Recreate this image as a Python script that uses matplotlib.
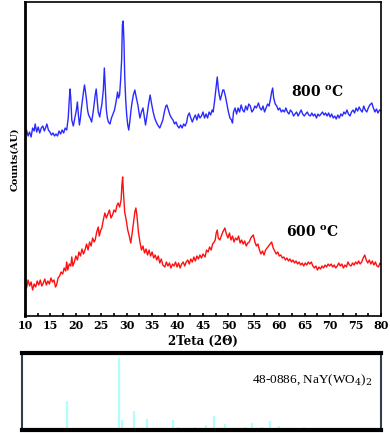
import matplotlib
matplotlib.use("Agg")
import matplotlib.pyplot as plt
from matplotlib.ticker import MultipleLocator

# ---- data (2theta in degrees, intensity in arbitrary units) ----
xrd_800 = [
    (10.0,185),(10.3,190),(10.6,184),(10.9,188),(11.2,183),(11.5,192),(11.8,189),(12.0,196),(12.3,188),(12.6,193),
    (12.9,187),(13.2,192),(13.5,194),(13.8,189),(14.1,193),(14.3,196),(14.6,190),(14.9,188),(15.2,185),(15.5,187),
    (15.8,184),(16.1,186),(16.4,184),(16.7,189),(17.0,186),(17.3,190),(17.6,187),(17.9,192),(18.2,190),(18.5,202),
    (18.7,220),(18.85,231),(19.0,222),(19.2,200),(19.5,194),(19.8,202),(20.1,210),(20.3,218),(20.5,205),(20.7,195),
    (20.9,202),(21.1,212),(21.3,220),(21.5,228),(21.7,235),(21.9,228),(22.1,220),(22.3,210),(22.5,205),(22.8,202),
    (23.1,198),(23.4,208),(23.6,216),(23.8,225),(24.0,231),(24.2,220),(24.4,208),(24.7,203),(24.9,210),(25.1,215),
    (25.4,230),(25.6,252),(25.8,230),(26.0,210),(26.2,202),(26.4,198),(26.7,196),(27.0,202),(27.3,206),(27.6,210),
    (27.9,218),(28.2,228),(28.4,222),(28.6,225),(28.8,240),(29.0,260),(29.15,295),(29.3,299),(29.45,280),(29.6,245),
    (29.8,220),(30.0,205),(30.2,195),(30.4,190),(30.6,198),(30.8,208),(31.0,216),(31.3,225),(31.6,230),(31.9,222),
    (32.2,215),(32.4,208),(32.6,202),(32.9,208),(33.2,212),(33.4,205),(33.7,195),(34.0,205),(34.3,216),(34.6,225),
    (34.9,216),(35.2,208),(35.5,202),(35.8,198),(36.1,195),(36.5,192),(36.8,196),(37.1,200),(37.4,208),(37.7,214),
    (37.9,215),(38.2,210),(38.5,205),(38.8,202),(39.1,200),(39.4,196),(39.7,198),(40.0,194),(40.3,192),(40.6,195),
    (40.9,192),(41.2,196),(41.5,194),(41.8,198),(42.0,204),(42.3,207),(42.6,202),(42.9,198),(43.2,202),(43.5,205),
    (43.8,200),(44.1,206),(44.4,202),(44.7,204),(45.0,208),(45.3,202),(45.6,206),(45.9,202),(46.2,208),(46.5,205),
    (46.8,210),(47.0,208),(47.3,220),(47.6,234),(47.8,243),(48.0,232),(48.2,225),(48.4,220),(48.6,224),(48.9,230),
    (49.1,230),(49.4,224),(49.7,216),(50.0,208),(50.3,202),(50.6,200),(50.8,197),(51.0,208),(51.3,212),(51.6,206),
    (51.9,212),(52.2,208),(52.5,215),(52.8,210),(53.1,208),(53.4,214),(53.7,210),(54.0,216),(54.3,214),(54.6,208),
    (54.9,210),(55.2,214),(55.5,212),(55.9,217),(56.2,212),(56.5,210),(56.8,214),(57.1,208),(57.4,212),(57.7,216),
    (58.0,214),(58.3,222),(58.5,228),(58.7,232),(58.9,222),(59.2,216),(59.5,214),(59.8,210),(60.1,212),(60.4,208),
    (60.7,210),(61.0,208),(61.3,212),(61.6,208),(61.9,206),(62.2,210),(62.5,208),(62.8,204),(63.1,206),(63.4,208),
    (63.7,204),(64.0,207),(64.3,210),(64.6,206),(64.9,204),(65.2,206),(65.5,208),(65.8,205),(66.1,204),(66.4,207),
    (66.7,204),(67.0,206),(67.3,202),(67.6,206),(67.9,204),(68.2,206),(68.5,208),(68.8,205),(69.1,207),(69.4,204),
    (69.7,207),(70.0,203),(70.3,206),(70.6,202),(70.9,204),(71.2,201),(71.5,205),(71.8,202),(72.1,206),(72.4,204),
    (72.7,208),(73.0,206),(73.3,210),(73.6,206),(73.9,204),(74.2,208),(74.5,210),(74.8,207),(75.1,212),(75.4,209),
    (75.7,213),(76.0,210),(76.3,208),(76.6,214),(76.9,210),(77.2,208),(77.5,212),(77.8,215),(78.2,217),(78.5,212),
    (78.8,208),(79.1,211),(79.4,207),(79.7,210),(80.0,209),
]

xrd_600 = [
    (10.0,37),(10.3,32),(10.6,40),(10.9,34),(11.2,38),(11.5,30),(11.8,36),(12.1,33),(12.4,39),(12.7,35),
    (13.0,40),(13.3,34),(13.6,37),(13.9,41),(14.2,35),(14.5,39),(14.8,36),(15.1,42),(15.4,38),(15.7,40),
    (16.0,33),(16.2,35),(16.5,42),(16.8,44),(17.1,48),(17.4,46),(17.7,52),(18.0,49),(18.2,58),(18.4,50),
    (18.7,56),(19.0,54),(19.2,63),(19.4,54),(19.7,58),(20.0,64),(20.3,60),(20.6,68),(20.9,64),(21.2,71),
    (21.5,66),(21.8,70),(22.1,76),(22.4,70),(22.7,78),(23.0,74),(23.3,82),(23.6,78),(23.8,80),(24.1,88),
    (24.4,93),(24.6,84),(24.9,90),(25.1,92),(25.4,100),(25.7,107),(26.0,102),(26.3,106),(26.6,110),(26.9,102),
    (27.2,105),(27.5,110),(27.8,108),(28.1,115),(28.3,117),(28.6,113),(28.9,120),(29.05,135),(29.2,143),(29.35,128),
    (29.6,108),(29.9,100),(30.2,90),(30.5,84),(30.8,77),(31.1,88),(31.4,100),(31.6,108),(31.8,112),(32.0,105),
    (32.3,88),(32.6,78),(32.9,70),(33.2,74),(33.5,67),(33.8,71),(34.1,65),(34.4,70),(34.7,64),(35.0,68),
    (35.3,62),(35.6,65),(35.9,60),(36.2,64),(36.5,57),(36.8,61),(37.1,55),(37.5,53),(37.8,58),(38.1,54),
    (38.4,57),(38.7,52),(39.0,56),(39.3,54),(39.6,58),(39.9,53),(40.2,57),(40.5,52),(40.8,56),(41.1,58),
    (41.4,54),(41.7,58),(42.0,60),(42.3,56),(42.6,61),(42.9,58),(43.2,63),(43.5,59),(43.8,64),(44.1,61),
    (44.4,65),(44.7,62),(45.0,66),(45.4,63),(45.7,70),(46.0,68),(46.3,73),(46.6,70),(46.9,76),(47.2,78),
    (47.4,80),(47.6,87),(47.8,90),(48.0,82),(48.3,80),(48.6,84),(48.9,88),(49.1,90),(49.3,92),(49.6,86),
    (49.9,82),(50.2,87),(50.5,80),(50.8,84),(51.1,78),(51.4,82),(51.7,80),(52.0,84),(52.3,77),(52.6,80),
    (52.9,76),(53.2,79),(53.5,74),(53.8,77),(54.1,78),(54.4,82),(54.7,84),(54.9,85),(55.2,78),(55.5,74),
    (55.8,76),(56.1,70),(56.4,66),(56.7,69),(57.0,65),(57.3,70),(57.6,72),(57.9,74),(58.2,76),(58.5,78),
    (58.8,72),(59.1,69),(59.4,66),(59.7,68),(60.0,64),(60.3,65),(60.6,62),(60.9,63),(61.2,60),(61.5,62),
    (61.8,59),(62.1,61),(62.4,58),(62.7,60),(63.0,57),(63.3,59),(63.6,56),(63.9,58),(64.2,55),(64.5,57),
    (64.8,54),(65.1,57),(65.4,55),(65.7,58),(66.0,56),(66.3,58),(66.6,54),(66.9,52),(67.2,54),(67.5,50),
    (67.8,53),(68.1,51),(68.4,54),(68.7,52),(69.0,55),(69.3,53),(69.6,56),(69.9,54),(70.2,56),(70.5,53),
    (70.8,55),(71.1,52),(71.4,54),(71.7,57),(72.0,54),(72.3,56),(72.6,52),(72.9,55),(73.2,53),(73.5,58),
    (73.8,55),(74.1,54),(74.4,57),(74.7,55),(75.0,58),(75.3,56),(75.6,59),(75.9,56),(76.2,58),(76.5,62),
    (76.8,65),(77.1,60),(77.4,57),(77.7,60),(78.0,56),(78.3,59),(78.6,55),(78.9,58),(79.2,54),(79.5,53),
    (79.8,57),(80.0,55),
]

# reference pattern 48-0886 NaY(WO4)2 : position, relative intensity (%)
ref_pos = [18.7, 29.0, 29.5, 31.8, 34.4, 39.5, 40.5, 43.9, 46.0, 47.6, 49.6, 53.6, 54.9, 57.0, 58.5, 60.2, 65.2]
ref_int = [38, 100, 12, 24, 13, 11, 2, 2, 4, 17, 5, 2, 7, 2, 10, 3, 2]

label_800 = "800 $^{\\mathbf{o}}$C"
label_600 = "600 $^{\\mathbf{o}}$C"
ref_label = "48-0886, NaY(WO$_4$)$_2$"
xticks = [10, 15, 20, 25, 30, 35, 40, 45, 50, 55, 60, 65, 70, 75, 80]

plt.rcParams['font.family'] = ['DejaVu Serif']
plt.rcParams['mathtext.fontset'] = 'dejavuserif'

W, H = 390, 433
fig = plt.figure(figsize=(W / 100, H / 100), dpi=100)

# ---- main axes ----
ax = fig.add_axes([25 / W, 1 - 316 / H, 356 / W, 314 / H])
x8, y8 = zip(*xrd_800)
x6, y6 = zip(*xrd_600)
ax.plot(x8, y8, color='#2a2aff', lw=1.0)
ax.plot(x6, y6, color='#ff1010', lw=1.0)
ax.set_xlim(10, 80)
ax.set_ylim(4, 318)
ax.set_yticks([])
ax.set_xticks(xticks)
ax.set_xticklabels([str(t) for t in xticks], fontsize=8, fontweight='bold')
ax.xaxis.set_minor_locator(MultipleLocator(2.5))
ax.tick_params(axis='x', which='both', direction='in', length=2, width=1.2, pad=3)
for s in ax.spines.values():
    s.set_linewidth(1.2)
ax.spines['left'].set_linewidth(2.0)
ax.set_xlabel("2Teta (2\u0398)", fontsize=8.5, fontweight='bold', labelpad=3)
ax.set_ylabel("Counts(AU)", fontsize=7, fontweight='bold', labelpad=4)
ax.text(62.3, 228, label_800, fontsize=10, fontweight='bold', ha='left', va='center')
ax.text(61.3, 88, label_600, fontsize=10, fontweight='bold', ha='left', va='center')

# ---- reference pattern axes ----
ax2 = fig.add_axes([22 / W, 1 - 430 / H, 359 / W, 77 / H])
ax2.vlines(ref_pos, 0, ref_int, color='#b0ffff', lw=1.6)
ax2.set_xlim(9.95, 80.2)
ax2.set_ylim(-3, 107)
ax2.set_xticks([])
ax2.set_yticks([])
ax2.spines['top'].set_linewidth(3.0)
ax2.spines['bottom'].set_linewidth(3.0)
ax2.spines['top'].set_color('black')
ax2.spines['bottom'].set_color('black')
ax2.spines['left'].set_linewidth(1.5)
ax2.spines['right'].set_linewidth(1.5)
ax2.spines['left'].set_color('#2f3f4f')
ax2.spines['right'].set_color('#2f3f4f')
ax2.text(0.975, 0.64, ref_label, transform=ax2.transAxes, fontsize=9.5,
         family='Liberation Serif', ha='right', va='center')

fig.savefig("out.png", dpi=100)
